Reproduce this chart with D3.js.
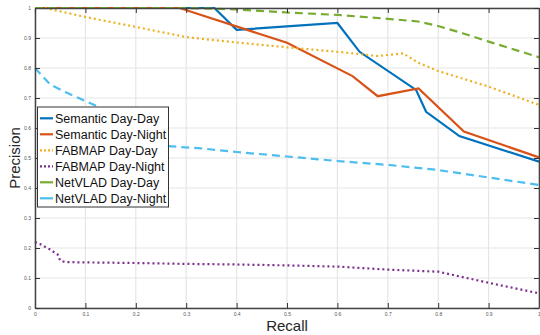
<!DOCTYPE html>
<html>
<head>
<meta charset="utf-8">
<script src="https://cdn.jsdelivr.net/npm/d3@7"></script>
<style>
  body { margin: 0; background: #fff; }
  svg { display: block; font-family: "Liberation Sans", Arial, sans-serif; }
</style>
</head>
<body>
<div id="chart"></div>
<script>
// curves, [recall, precision]
const semanticDayDay = [[0,1],[0.356,1],[0.4,0.927],[0.6,0.95],[0.644,0.854],[0.756,0.727],[0.776,0.654],[0.842,0.573],[1,0.488]];
const semanticDayNight = [[0,1],[0.287,1],[0.5,0.884],[0.63,0.773],[0.68,0.706],[0.761,0.732],[0.851,0.588],[1,0.502]];
const fabmapDayDay = [[0,1],[0.02,1],[0.1,0.97],[0.2,0.937],[0.3,0.903],[0.4,0.885],[0.5,0.869],[0.6,0.854],[0.68,0.84],[0.71,0.845],[0.73,0.849],[0.76,0.818],[0.8,0.79],[0.9,0.738],[1,0.677]];
const fabmapDayNight = [[0,0.22],[0.01,0.213],[0.03,0.195],[0.045,0.178],[0.05,0.158],[0.06,0.153],[0.1,0.152],[0.2,0.15],[0.3,0.147],[0.4,0.145],[0.5,0.142],[0.6,0.138],[0.7,0.128],[0.8,0.121],[0.9,0.084],[1,0.049]];
const netvladDayDay = [[0,1],[0.3,1],[0.35,0.998],[0.4,0.995],[0.5,0.985],[0.6,0.977],[0.7,0.964],[0.76,0.955],[0.8,0.94],[0.85,0.915],[0.9,0.888],[1,0.836]];
const netvladDayNight = [[0,0.8],[0.03,0.745],[0.06,0.72],[0.13,0.667],[0.2,0.597],[0.26,0.54],[0.33,0.532],[0.4,0.52],[0.5,0.505],[0.6,0.49],[0.7,0.477],[0.8,0.46],[0.9,0.435],[1,0.41]];

const seriesNames = ["Semantic Day-Day","Semantic Day-Night","FABMAP Day-Day","FABMAP Day-Night","NetVLAD Day-Day","NetVLAD Day-Night"];
const seriesData = [semanticDayDay, semanticDayNight, fabmapDayDay, fabmapDayNight, netvladDayDay, netvladDayNight];
const colors = ["#0072BD","#D95319","#EDB120","#7E2F8E","#77AC30","#4DBEEE"];
const dashes = [null, null, "2,3", "2,3", "8,5", "8,5"];
const ticks = d3.range(0, 1.01, 0.1).map(v => +v.toFixed(1));

const width = 540, height = 335;
const margin = {top: 8, right: 1, bottom: 27, left: 35};

const svg = d3.select("#chart").append("svg")
    .attr("width", width)
    .attr("height", height);

const x = d3.scaleLinear().domain([0, 1]).range([margin.left, width - margin.right]);
const y = d3.scaleLinear().domain([0, 1]).range([height - margin.bottom, margin.top]);

// grid
svg.append("g").selectAll("line").data(ticks).join("line")
    .attr("x1", d => x(d)).attr("x2", d => x(d))
    .attr("y1", y(0)).attr("y2", y(1))
    .attr("stroke", "#e6e6e6").attr("stroke-width", 1.2);
svg.append("g").selectAll("line").data(ticks).join("line")
    .attr("y1", d => y(d)).attr("y2", d => y(d))
    .attr("x1", x(0)).attr("x2", x(1))
    .attr("stroke", "#e6e6e6").attr("stroke-width", 1.2);

// lines
const line = d3.line().x(d => x(d[0])).y(d => y(d[1]));
seriesData.forEach((s, i) => {
    svg.append("path")
        .datum(s)
        .attr("d", line)
        .attr("fill", "none")
        .attr("stroke", colors[i])
        .attr("stroke-width", 2.2)
        .attr("stroke-dasharray", dashes[i]);
});

// axes, matlab style box with inner ticks
const fmt = d => d === 0 ? "0" : d === 1 ? "1" : d3.format(".1f")(d);
const axStyle = g => {
    g.select(".domain").attr("stroke", "#444").attr("stroke-width", 1.5);
    g.selectAll(".tick line").attr("stroke", "#333").attr("stroke-width", 1);
    g.selectAll(".tick text").attr("fill", "#555").attr("font-size", "5px");
};
svg.append("g")
    .attr("transform", `translate(0,${y(0)})`)
    .call(d3.axisBottom(x).tickValues(ticks).tickFormat(fmt).tickSizeInner(-5).tickSizeOuter(0).tickPadding(4))
    .call(axStyle);
svg.append("g")
    .attr("transform", `translate(${x(0)},0)`)
    .call(d3.axisLeft(y).tickValues(ticks).tickFormat(fmt).tickSizeInner(-5).tickSizeOuter(0).tickPadding(4))
    .call(axStyle);
svg.append("g")
    .attr("transform", `translate(0,${y(1)})`)
    .call(d3.axisTop(x).tickValues(ticks).tickFormat("").tickSizeInner(-5).tickSizeOuter(0))
    .call(axStyle);
svg.append("g")
    .attr("transform", `translate(${x(1)},0)`)
    .call(d3.axisRight(y).tickValues(ticks).tickFormat("").tickSizeInner(-5).tickSizeOuter(0))
    .call(axStyle);

// axis titles
svg.append("text")
    .attr("x", x(0.5)).attr("y", 331)
    .attr("text-anchor", "middle")
    .attr("font-size", "15px").attr("fill", "#262626")
    .text("Recall");
svg.append("text")
    .attr("transform", `translate(20,${y(0.5)}) rotate(-90)`)
    .attr("text-anchor", "middle")
    .attr("font-size", "15px").attr("fill", "#262626")
    .text("Precision");

// legend
const legend = svg.append("g").attr("transform", "translate(37.5,107)");
legend.append("rect")
    .attr("width", 131).attr("height", 100)
    .attr("fill", "#fff").attr("stroke", "#333").attr("stroke-width", 1);
seriesNames.forEach((n, i) => {
    const ly = 11.3 + i * 16;
    legend.append("line")
        .attr("x1", 2.5).attr("x2", 15.5).attr("y1", ly).attr("y2", ly)
        .attr("stroke", colors[i]).attr("stroke-width", 2.2)
        .attr("stroke-dasharray", (i === 2 || i === 3) ? "2,2" : null);
    legend.append("text")
        .attr("x", 17.5).attr("y", ly + 4.5)
        .attr("font-size", "12.5px").attr("fill", "#111")
        .text(n);
});
</script>
</body>
</html>
